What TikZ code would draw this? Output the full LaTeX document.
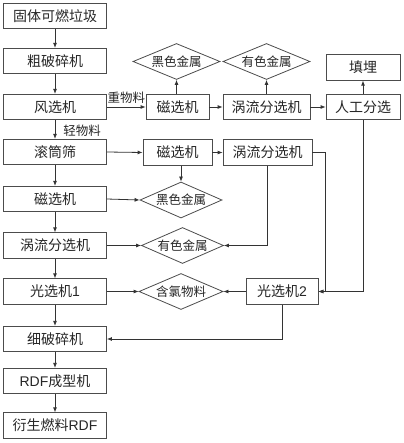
\documentclass[tikz,border=0pt]{standalone}
\usepackage{fontspec}
\setmainfont{Liberation Sans}
\newfontfamily\song{Noto Sans CJK SC}
\newfontfamily\arial{Liberation Sans}
\usetikzlibrary{arrows.meta,shapes.geometric}
\begin{document}
\begin{tikzpicture}[x=1pt,y=-1pt,
 box/.style={draw=black!70, line width=0.8pt, minimum height=25.5pt, inner sep=0pt, font=\song\fontsize{14}{16}\selectfont, text=black!85},
 dia/.style={draw=black!70, line width=0.8pt, diamond, aspect=2.35, inner sep=0pt, minimum width=85pt, minimum height=36pt, font=\song\fontsize{12.5}{14}\selectfont, text=black!85},
 lbl/.style={inner sep=0pt, font=\song\fontsize{12.5}{14}\selectfont, text=black!85},
 arr/.style={draw=black!80, line width=0.8pt, -{Latex[length=5pt,width=4pt]}}]
\fill[white] (0,0) rectangle (403,443);
\useasboundingbox (0,0) rectangle (403,443);
% left column
\node[box, minimum width=103pt] (n1) at (55,16) {固体可燃垃圾};
\node[box, minimum width=103pt] (n2) at (55,61) {粗破碎机};
\node[box, minimum width=103pt] (n3) at (55,107) {风选机};
\node[box, minimum width=103pt] (n4) at (55,152) {滚筒筛};
\node[box, minimum width=103pt] (n5) at (55,199) {磁选机};
\node[box, minimum width=103pt] (n6) at (55,245.5) {涡流分选机};
\node[box, minimum width=103pt] (n7) at (55,291.5) {光选机{\arial 1}};
\node[box, minimum width=103pt] (n8) at (55,339) {细破碎机};
\node[box, minimum width=103pt] (n9) at (55,381) {{\arial RDF}成型机};
\node[box, minimum width=103pt] (n10) at (55,425.5) {衍生燃料{\arial RDF}};
% top row
\node[box, minimum width=63pt] (m1) at (177.5,107) {磁选机};
\node[box, minimum width=87pt] (v1) at (266.5,107) {涡流分选机};
\node[box, minimum width=74pt] (r1) at (363,107) {人工分选};
\node[box, minimum width=74pt] (f1) at (363,67.5) {填埋};
\node[dia, minimum width=87pt] (d1) at (176.5,61.5) {黑色金属};
\node[dia, minimum width=87pt] (d2) at (266.5,61.5) {有色金属};
% second row
\node[box, minimum width=69pt] (m2) at (177.5,152.5) {磁选机};
\node[box, minimum width=89pt] (v2) at (267.5,152.5) {涡流分选机};
\node[dia, minimum width=82pt] (d3) at (181,200) {黑色金属};
\node[dia, minimum width=82pt] (d4) at (182.5,245.5) {有色金属};
\node[dia, minimum width=84pt] (d5) at (181,291.5) {含氯物料};
\node[box, minimum width=72pt] (g2) at (282,291.5) {光选机{\arial 2}};
\coordinate (c1) at (325,291.5);
% left chain
\draw[arr] (n1.south) -- (n2.north);
\draw[arr] (n2.south) -- (n3.north);
\draw[arr] (n3.south) -- node[lbl, anchor=west, xshift=8pt, yshift=-1pt] {轻物料} (n4.north);
\draw[arr] (n4.south) -- (n5.north);
\draw[arr] (n5.south) -- (n6.north);
\draw[arr] (n6.south) -- (n7.north);
\draw[arr] (n7.south) -- (n8.north);
\draw[arr] (n8.south) -- (n9.north);
\draw[arr] (n9.south) -- (n10.north);
% top row
\draw[arr] (n3.east) -- node[lbl, above, yshift=3pt] {重物料} (m1.west);
\draw[arr] (m1.east) -- (v1.west);
\draw[arr] (v1.east) -- (r1.west);
\draw[arr] (d1.south |- m1.north) -- (d1.south);
\draw[arr] (v1.north) -- (d2.south);
\draw[arr] (r1.north) -- (f1.south);
% second row
\draw[arr] (n4.east) -- (m2.west);
\draw[arr] (m2.east) -- (v2.west);
\draw[arr] (d3.north |- m2.south) -- (d3.north);
\draw[arr] (v2.south) |- (d4.east);
\draw[arr] (v2.east) -| (c1) -- (g2.east);
\draw[arr] (r1.south) |- (g2.east);
\draw[arr] (n5.east) -- (d3.west);
\draw[arr] (n6.east) -- (d4.west);
\draw[arr] (n7.east) -- (d5.west);
\draw[arr] (g2.west) -- (d5.east);
\draw[arr] (g2.south) |- (n8.east);
\end{tikzpicture}
\end{document}
